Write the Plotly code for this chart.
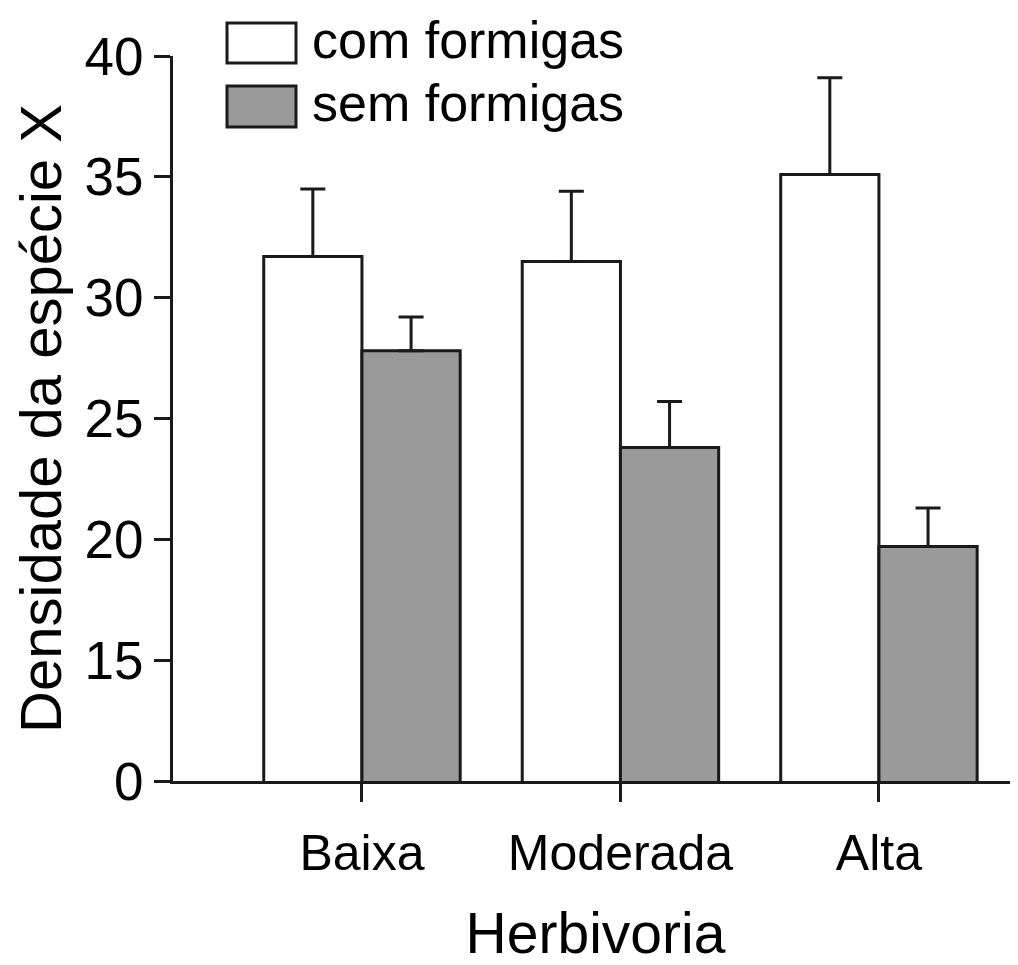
import plotly.graph_objects as go

categories = ["Baixa", "Moderada", "Alta"]
com_formigas = [31.7, 31.5, 35.1]
com_err = [2.8, 2.9, 4.0]
sem_formigas = [27.8, 23.8, 19.7]
sem_err = [1.4, 1.9, 1.6]
series_names = ["com formigas", "sem formigas"]
y_tickvals = [10, 15, 20, 25, 30, 35, 40]
y_ticktext = ["0", "15", "20", "25", "30", "35", "40"]

FONT = "Liberation Sans, Arial, Helvetica, sans-serif"
LINE = "#1a1a1a"
GRAY = "#9a9a9a"

fig = go.Figure()
fig.add_trace(go.Bar(
    x=categories, y=com_formigas, name=series_names[0],
    marker=dict(color="white", line=dict(color=LINE, width=3)),
    error_y=dict(type="data", array=com_err, arrayminus=[0]*3, symmetric=False,
                 color=LINE, thickness=3, width=12.5),
))
fig.add_trace(go.Bar(
    x=categories, y=sem_formigas, name=series_names[1],
    marker=dict(color=GRAY, line=dict(color=LINE, width=3)),
    error_y=dict(type="data", array=sem_err, arrayminus=[0]*3, symmetric=False,
                 color=LINE, thickness=3, width=12.5),
))

# page has an 8px body margin; size the figure so it ends exactly at the window edge
OFF = 8
PAGE_W, PAGE_H = 1018, 965
W, H = PAGE_W - OFF, PAGE_H - OFF
L, R, T = 173 - OFF, 0, 56 - OFF
B = H - (781 - OFF)
pw, ph = W - L - R, H - T - B

def px(x):
    # page pixel x -> paper
    return (x - OFF - L) / pw

def py(y):
    # page pixel y -> paper
    return (H - B - (y - OFF)) / ph

shapes = [
    dict(type="rect", xref="paper", yref="paper", x0=px(227), x1=px(296), y0=py(63), y1=py(23),
         fillcolor="white", line=dict(color=LINE, width=3)),
    dict(type="rect", xref="paper", yref="paper", x0=px(227), x1=px(296), y0=py(127), y1=py(86),
         fillcolor=GRAY, line=dict(color=LINE, width=3)),
]
annotations = [
    dict(xref="paper", yref="paper", x=px(310), y=py(40), text=series_names[0], showarrow=False,
         xanchor="left", yanchor="middle", font=dict(size=52, family=FONT, color="black")),
    dict(xref="paper", yref="paper", x=px(310), y=py(103), text=series_names[1], showarrow=False,
         xanchor="left", yanchor="middle", font=dict(size=52, family=FONT, color="black")),
]

fig.update_layout(
    width=W, height=H,
    margin=dict(l=L, r=R, t=T, b=B, pad=0, autoexpand=False),
    paper_bgcolor="white", plot_bgcolor="white",
    barmode="group", bargap=0.24, bargroupgap=0,
    showlegend=False,
    font=dict(family=FONT, color="black"),
    shapes=shapes, annotations=annotations,
)
fig.update_xaxes(
    range=[-0.731, 2.538], showline=True, linecolor=LINE, linewidth=3,
    ticks="outside", ticklen=18, tickwidth=3, tickcolor=LINE,
    tickfont=dict(size=50, family=FONT, color="black"), ticklabelstandoff=8,
    showgrid=False, zeroline=False, automargin=False,
    title=dict(text="Herbivoria", font=dict(size=57, family=FONT, color="black"), standoff=50),
)
fig.update_yaxes(
    range=[10, 40], tickvals=y_tickvals, ticktext=y_ticktext,
    showline=True, linecolor=LINE, linewidth=3,
    ticks="outside", ticklen=16, tickwidth=3, tickcolor=LINE,
    tickfont=dict(size=53, family=FONT, color="black"),
    showgrid=False, zeroline=False, automargin=False,
    title=dict(text="Densidade da espécie X", font=dict(size=58, family=FONT, color="black"), standoff=12),
)

fig.write_html("out.html")
